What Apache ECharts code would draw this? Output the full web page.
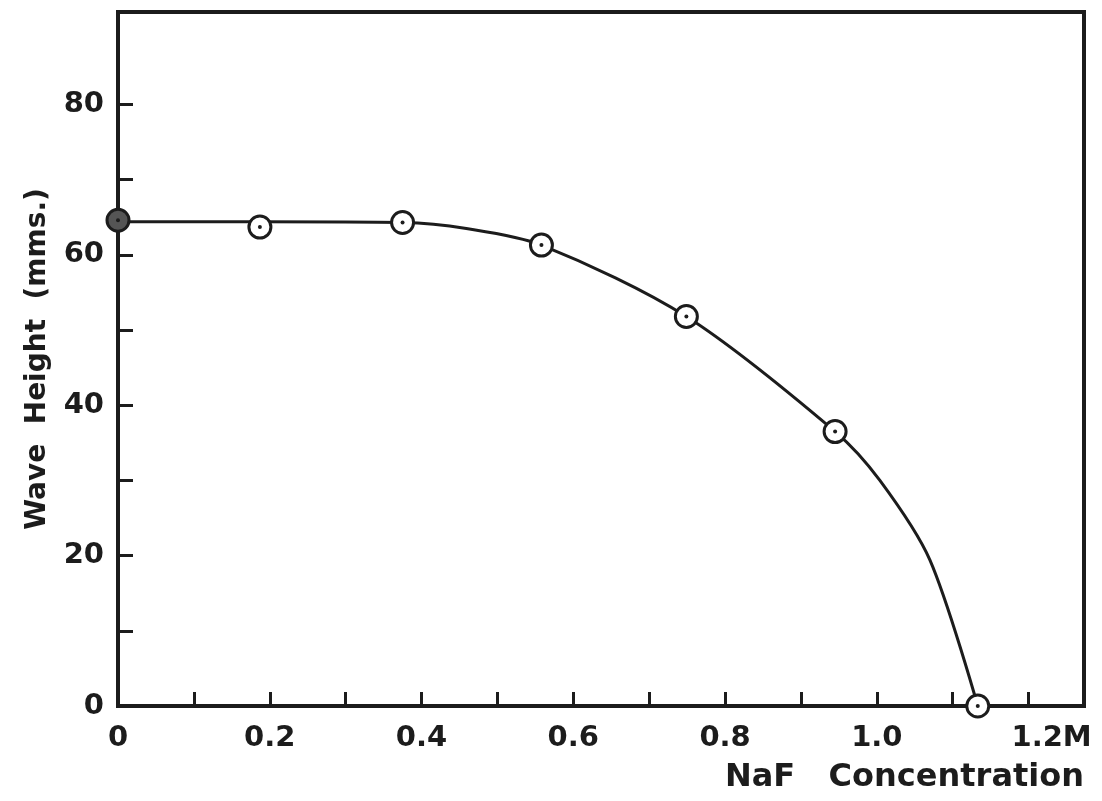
<!DOCTYPE html>
<html>
<head>
<meta charset="utf-8">
<script src="https://cdn.jsdelivr.net/npm/echarts@6/dist/echarts.min.js"></script>
<style>
  html, body { margin: 0; padding: 0; background: #ffffff; }
  #chart { width: 1102px; height: 801px; }
</style>
</head>
<body>
<div id="chart"></div>
<script>
// measured points (circles)
var concentration = [0, 0.187, 0.375, 0.558, 0.749, 0.945, 1.133];
var waveHeight = [64.6, 63.7, 64.3, 61.3, 51.8, 36.5, 0];

// hand drawn curve
var curveX = [0, 0.187, 0.375, 0.459, 0.558, 0.749, 0.945, 1.004, 1.070, 1.133];
var curveY = [64.4, 64.4, 64.3, 63.5, 61.3, 51.8, 36.5, 30.0, 19.4, 0];

var xTickLabels = ['0', '0.2', '0.4', '0.6', '0.8', '1.0', '1.2M'];
var yTickLabels = ['0', '20', '40', '60', '80'];

var ink = '#1c1c1c';
var font = 'DejaVu Sans';

var chart = echarts.init(document.getElementById('chart'));

var pts = concentration.map(function (x, i) {
	var p = { value: [x, waveHeight[i]] };
	if (i === 0) p.itemStyle = { color: '#555' };
	return p;
});

option = {
	backgroundColor: '#ffffff',
	animation: false,
	grid: {
		left: 118,
		right: 18,
		top: 12,
		bottom: 95,
		show: true,
		borderColor: ink,
		borderWidth: 4
	},
	xAxis: {
		type: 'value',
		min: 0,
		max: 1.273,
		name: 'NaF   Concentration',
		nameLocation: 'end',
		nameGap: 0,
		nameTextStyle: {
			align: 'right',
			verticalAlign: 'top',
			padding: [56, 0, 0, 0],
			fontFamily: font,
			fontWeight: 'bold',
			fontSize: 32,
			color: ink
		},
		splitLine: { show: false },
		axisLine: { lineStyle: { color: ink, width: 4 } },
		axisTick: {
			inside: true,
			length: 14,
			lineStyle: { color: ink, width: 3 },
			customValues: [0.1, 0.2, 0.3, 0.4, 0.5, 0.6, 0.7, 0.8, 0.9, 1.0, 1.1, 1.2]
		},
		axisLabel: {
			customValues: [0, 0.2, 0.4, 0.6, 0.8, 1.0, 1.2],
			margin: 18,
			fontFamily: font,
			fontWeight: 'bold',
			fontSize: 29,
			color: ink,
			formatter: function (v) {
				var i = Math.round(v * 5);
				if (i === 6) return '{m|' + xTickLabels[i] + '}';
				return xTickLabels[i];
			},
			rich: {
				m: {
					fontFamily: font,
					fontWeight: 'bold',
					fontSize: 29,
					color: ink,
					padding: [0, 0, 0, 46]
				}
			}
		}
	},
	yAxis: {
		type: 'value',
		min: 0,
		max: 92.3,
		name: 'Wave  Height  (mms.)',
		nameLocation: 'middle',
		nameGap: 66,
		nameTextStyle: {
			fontFamily: font,
			fontWeight: 'bold',
			fontSize: 28,
			color: ink,
			padding: [0, 0, 0, 0]
		},
		splitLine: { show: false },
		axisLine: { lineStyle: { color: ink, width: 4 } },
		axisTick: {
			inside: true,
			length: 15,
			lineStyle: { color: ink, width: 3 },
			customValues: [10, 20, 30, 40, 50, 60, 70, 80]
		},
		axisLabel: {
			customValues: [0, 20, 40, 60, 80],
			margin: 14,
			fontFamily: font,
			fontWeight: 'bold',
			fontSize: 29,
			color: ink,
			formatter: function (v) {
				return yTickLabels[Math.round(v / 20)];
			}
		}
	},
	series: [
		{
			name: 'curve',
			type: 'line',
			data: curveX.map(function (x, i) { return [x, curveY[i]]; }),
			smooth: 0.3,
			showSymbol: false,
			clip: false,
			lineStyle: { color: ink, width: 3 },
			z: 2
		},
		{
			name: 'measured',
			type: 'scatter',
			data: pts,
			symbol: 'circle',
			symbolSize: 22,
			clip: false,
			itemStyle: { color: '#ffffff', borderColor: ink, borderWidth: 3, opacity: 1 },
			z: 3
		},
		{
			name: 'centre',
			type: 'scatter',
			data: concentration.map(function (x, i) { return [x, waveHeight[i]]; }),
			symbol: 'circle',
			symbolSize: 4,
			clip: false,
			itemStyle: { color: ink, opacity: 1 },
			z: 4
		}
	]
};

chart.setOption(option);
</script>
</body>
</html>
